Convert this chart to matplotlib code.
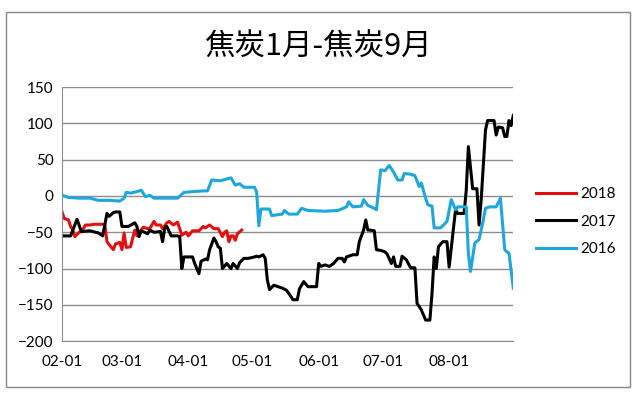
import matplotlib.pyplot as plt
import matplotlib.dates as mdates
from matplotlib.patches import Rectangle
import pandas as pd

# 焦炭1月-焦炭9月 spread, three years on one Feb..Aug axis
dates_2018 = ['02-01', '02-02', '02-04', '02-05', '02-06', '02-07', '02-09', '02-10',
              '02-12', '02-14', '02-16', '02-20', '02-21', '02-22', '02-23', '02-25',
              '02-26', '02-28', '03-01', '03-02', '03-03', '03-05', '03-07', '03-08',
              '03-11', '03-13', '03-14', '03-16', '03-17', '03-19', '03-20', '03-22',
              '03-23', '03-25', '03-27', '03-28', '03-29', '03-31', '04-01', '04-03',
              '04-06', '04-08', '04-09', '04-11', '04-13', '04-15', '04-17', '04-18',
              '04-19', '04-20', '04-21', '04-22', '04-23', '04-24', '04-26']
vals_2018 = [-22, -31, -33, -42, -47, -56, -50, -49,
             -40, -40, -39, -39, -40, -63, -67, -74,
             -66, -64, -74, -51, -71, -70, -47, -55,
             -43, -45, -45, -35, -40, -40, -45, -37,
             -35, -40, -36, -45, -54, -50, -55, -48,
             -48, -42, -44, -40, -45, -45, -56, -50,
             -48, -63, -55, -55, -61, -52, -47]

dates_2017 = ['02-01', '02-05', '02-08', '02-10', '02-14', '02-18', '02-20', '02-22',
              '02-23', '02-25', '02-26', '02-28', '03-01', '03-04', '03-07', '03-08',
              '03-09', '03-10', '03-13', '03-14', '03-16', '03-19', '03-20', '03-21',
              '03-22', '03-24', '03-27', '03-28', '03-29', '03-30', '04-03', '04-04',
              '04-06', '04-07', '04-09', '04-10', '04-11', '04-13', '04-14', '04-15',
              '04-16', '04-17', '04-19', '04-21', '04-22', '04-24', '04-25', '04-27',
              '04-29', '05-02', '05-03', '05-04', '05-06', '05-07', '05-08', '05-09',
              '05-11', '05-13', '05-15', '05-17', '05-20', '05-22', '05-23', '05-25',
              '05-27', '05-31', '06-01', '06-02', '06-04', '06-06', '06-08', '06-10',
              '06-12', '06-13', '06-14', '06-17', '06-19', '06-20', '06-22', '06-23',
              '06-24', '06-25', '06-27', '06-28', '06-30', '07-02', '07-03', '07-05',
              '07-06', '07-07', '07-09', '07-10', '07-12', '07-14', '07-16', '07-17',
              '07-19', '07-21', '07-23', '07-24', '07-25', '07-26', '07-27', '07-29',
              '07-31', '08-01', '08-04', '08-05', '08-08', '08-09', '08-10', '08-12',
              '08-14', '08-15', '08-16', '08-18', '08-19', '08-22', '08-23', '08-24',
              '08-26', '08-27', '08-28', '08-29', '08-30', '08-31']
vals_2017 = [-55, -55, -32, -49, -48, -51, -55, -24,
             -28, -23, -22, -22, -42, -42, -37, -42,
             -56, -48, -52, -47, -50, -49, -63, -44,
             -42, -55, -55, -56, -100, -84, -84, -93,
             -107, -90, -87, -88, -74, -58, -63, -70,
             -72, -100, -93, -100, -93, -100, -92, -86,
             -86, -84, -83, -84, -81, -86, -116, -129,
             -123, -125, -127, -130, -143, -143, -128, -118,
             -125, -125, -93, -97, -95, -97, -93, -86,
             -86, -91, -84, -81, -81, -63, -47, -33,
             -47, -47, -48, -74, -75, -77, -80, -93,
             -84, -97, -97, -83, -88, -99, -99, -148,
             -157, -171, -171, -134, -84, -100, -70, -63,
             -63, -98, -19, -24, -24, 8, 68, 10,
             10, -40, -5, 91, 104, 104, 84, 95,
             94, 82, 82, 104, 97, 111]

dates_2016 = ['02-01', '02-04', '02-09', '02-14', '02-18', '02-23', '02-28', '03-02',
              '03-03', '03-05', '03-08', '03-10', '03-12', '03-14', '03-16', '03-22',
              '03-27', '03-30', '04-03', '04-08', '04-10', '04-12', '04-16', '04-21',
              '04-23', '04-25', '04-27', '05-02', '05-03', '05-04', '05-05', '05-09',
              '05-10', '05-15', '05-16', '05-18', '05-22', '05-24', '05-27', '06-04',
              '06-10', '06-14', '06-15', '06-17', '06-21', '06-22', '06-24', '06-27',
              '06-28', '06-30', '07-02', '07-04', '07-06', '07-08', '07-10', '07-11',
              '07-14', '07-16', '07-18', '07-19', '07-21', '07-22', '07-24', '07-25',
              '07-28', '07-31', '08-02', '08-04', '08-05', '08-09', '08-10', '08-11',
              '08-13', '08-15', '08-17', '08-18', '08-20', '08-23', '08-25', '08-27',
              '08-28', '08-29', '08-31']
vals_2016 = [1, -2, -3, -3, -6, -6, -7, -3,
             5, 4, 6, 8, -1, 1, -3, -3,
             -3, 5, 6, 7, 7, 22, 21, 25,
             15, 17, 12, 12, 5, -41, -18, -18,
             -27, -25, -20, -25, -25, -17, -20, -21,
             -20, -15, -8, -15, -14, -5, -13, -17,
             -19, 36, 35, 42, 33, 22, 22, 31,
             30, 28, 13, 18, -3, -12, -14, -44,
             -44, -35, -5, -19, -15, -15, -79, -104,
             -65, -60, -33, -17, -15, -15, -3, -74,
             -77, -79, -127]

series = [('2018', dates_2018, vals_2018, '#e41010'),
          ('2017', dates_2017, vals_2017, '#000000'),
          ('2016', dates_2016, vals_2016, '#1ea7dc')]

tick_labels = ['02-01', '03-01', '04-01', '05-01', '06-01', '07-01', '08-01']
y_ticks = [-200, -150, -100, -50, 0, 50, 100, 150]


def to_dt(lst):
    return pd.to_datetime(['2018-' + d for d in lst])


plt.rcParams['font.family'] = ['Lato', 'Noto Sans CJK SC', 'DejaVu Sans']

fig = plt.figure(figsize=(6.4, 3.98), dpi=100)
ax = fig.add_axes([0.097, 0.143, 0.705, 0.638])

# chart area border like Excel
fig.patches.append(Rectangle((6 / 640, 1 - 387 / 398), 624 / 640, 375 / 398,
                             transform=fig.transFigure, fill=False,
                             edgecolor='#888888', linewidth=1.0))

for name, d, v, c in series:
    ax.plot(to_dt(d), v, color=c, linewidth=2.2, label=name)

ax.set_ylim(-200, 150)
ax.set_yticks(y_ticks)
ax.set_xlim(pd.Timestamp('2018-02-01'), pd.Timestamp('2018-08-31'))
ax.set_xticks(to_dt(tick_labels))
ax.xaxis.set_major_formatter(mdates.DateFormatter('%m-%d'))

ax.grid(axis='y', color='#8c8c8c', linewidth=1.0)
ax.set_axisbelow(True)
for s in ['top', 'right']:
    ax.spines[s].set_visible(False)
ax.spines['left'].set_color('#8c8c8c')
ax.spines['bottom'].set_color('#8c8c8c')
ax.tick_params(length=0, labelsize=11, pad=6)
ax.tick_params(axis='x', pad=10)

fig.text(0.496, 0.884, '焦炭1月-焦炭9月', ha='center', va='center', fontsize=22,
         family=['Noto Sans CJK SC', 'DejaVu Sans'])

ax.legend(loc='center left', bbox_to_anchor=(1.02, 0.47), frameon=False,
          fontsize=11, handlelength=2.6, labelspacing=0.9, handletextpad=0.3)

fig.savefig('out.png', dpi=100)
